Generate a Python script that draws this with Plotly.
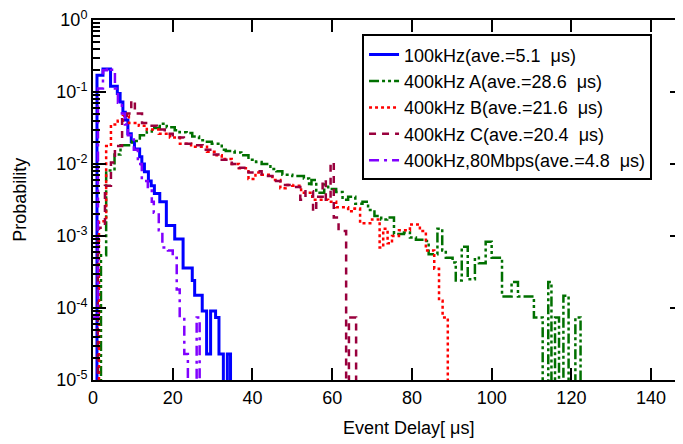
import plotly.graph_objects as go

# Event delay histograms.
# *_edges are bin edges in microseconds, *_prob the probability of each bin (0 = empty bin).

blue_edges = [0, 1.0, 2.5, 4.4, 6.1, 6.8, 7.5, 8.1, 8.75, 9.6, 10.4, 11.7, 12.25, 12.9, 13.9,
              14.6, 15.4, 16.75, 18.4, 20.5, 22.6, 24.9, 25.5, 27.4, 28.5, 29.5, 30.75, 31.6,
              32.7, 33.7, 34.5]
blue_prob = [0, 0.171, 0.209, 0.120, 0.0955, 0.0724, 0.0525, 0.0407, 0.0263, 0.0204, 0.0162,
             0.0126, 0.0100, 0.0078, 0.0058, 0.0050, 0.0039, 0.0030, 0.0014, 0.00091, 0.00036,
             0.00024, 0.00015, 9.1e-5, 2.3e-5, 9.1e-5, 7.4e-5, 2.3e-5, 0, 2.3e-5]

green_edges = [0, 2.0, 3.3, 5.4, 6.9, 9.75, 11.75, 13.5, 14.75, 16.75, 18.5, 20.5, 21.7, 23.5,
               24.9, 26.6, 28, 29.8, 32.3, 33.3, 35.5, 37.2, 39, 40.9, 42.3, 44.5, 46, 47.5, 50,
               52.9, 54.2, 54.8, 56, 58, 59, 61, 62.6, 64, 65.8, 67.6, 69, 70.6, 72.3, 73.8,
               75.5, 78, 79.5, 81, 82.6, 84.2, 86.4, 87.6, 88.5, 90.2, 91, 92.5, 94, 95.8, 96.8,
               98.5, 100, 102.6, 105, 106.6, 110.6, 112.8, 114.2, 115, 115.9, 116.9, 118, 119.3,
               121, 122.3]
green_prob = [0, 0.00054, 0.0081, 0.0135, 0.0182, 0.0209, 0.0251, 0.0282, 0.0316, 0.0363, 0.0324,
              0.0295, 0.0275, 0.0269, 0.0240, 0.0214, 0.0204, 0.0191, 0.0158, 0.0151, 0.0145,
              0.0132, 0.0115, 0.0107, 0.0100, 0.0085, 0.0079, 0.0071, 0.0068, 0.0063, 0.0050,
              0.0060, 0.0040, 0.0052, 0.0045, 0.0041, 0.0032, 0.0035, 0.0028, 0.0030, 0.0023,
              0.0019, 0.0017, 0.0018, 0.00107, 0.00112, 0.00095, 0.00089, 0.00085, 0.00056,
              0.00126, 0.00063, 0.00050, 0.00043, 0.00024, 0.00071, 0.00025, 0.00050, 0.00042,
              0.00083, 0.00050, 0.000145, 0.00023, 0.000145, 7.4e-5, 0, 0.00023, 0, 7.4e-5, 0,
              0.000148, 0, 7.4e-5]

red_edges = [0, 1.5, 3.3, 4.5, 6.2, 7.5, 9.0, 11.5, 13.5, 16.5, 19.3, 21.8, 24.6, 28.6, 31, 32.3,
             34.8, 36.6, 39, 40.75, 42.3, 45, 47, 48.3, 50, 52.2, 55, 59, 61, 64, 65.6, 67, 70,
             71.9, 72.8, 73.9, 75, 76.75, 79.5, 82, 83.5, 85.6, 86.8, 87.7, 89]
red_prob = [0, 0.0016, 0.0178, 0.0355, 0.0398, 0.0468, 0.0372, 0.0339, 0.0302, 0.0263, 0.0234,
            0.0191, 0.0174, 0.0148, 0.0132, 0.0117, 0.0100, 0.0087, 0.0062, 0.0076, 0.0071,
            0.0060, 0.0046, 0.0051, 0.0050, 0.0040, 0.0032, 0.0030, 0.0025, 0.0022, 0.0024,
            0.0015, 0.0017, 0.00069, 0.00126, 0.00079, 0.0010, 0.0012, 0.00145, 0.00117,
            0.00063, 0.00035, 0.000126, 7.4e-5]

maroon_edges = [0, 1.2, 3.0, 4.5, 5.5, 7.3, 8.5, 9.6, 10.5, 12.3, 14, 16, 18, 20, 22.8, 24.6,
                27.5, 30, 32.3, 34.8, 36.6, 39, 41, 42.3, 45, 47, 50, 52, 53.3, 55.2, 56, 57.6,
                58.4, 59.6, 60.4, 61.6, 63.5, 64.2, 66]
maroon_prob = [0, 0.0013, 0.0050, 0.0105, 0.0178, 0.0447, 0.0501, 0.0759, 0.0501, 0.0372, 0.0339,
               0.0302, 0.0263, 0.0234, 0.0191, 0.0182, 0.0158, 0.0135, 0.0115, 0.0100, 0.0089,
               0.0076, 0.0079, 0.0068, 0.0058, 0.0051, 0.0048, 0.0032, 0.0042, 0.0022, 0.0035,
               0.0060, 0.0032, 0.0105, 0.0018, 0.00117, 0, 7.4e-5]

purple_edges = [0, 1.25, 2.5, 3.5, 4.5, 5.5, 6.25, 7.25, 8.0, 8.75, 10.25, 11.25, 12.25, 13.75,
                14.75, 15.25, 16.5, 17.4, 18.8, 20.0, 21.0, 21.75, 22.9, 23.8, 26.0, 26.75]
purple_prob = [7.4e-5, 0.112, 0.200, 0.214, 0.204, 0.112, 0.0708, 0.0501, 0.0355, 0.0251, 0.0158,
               0.0100, 0.0058, 0.0046, 0.0030, 0.0021, 0.0012, 0.00069, 0.00063, 0.00050, 0.00018,
               7.4e-5, 2.3e-5, 0, 7.4e-5]

names = [
    "100kHz(ave.=5.1\u00a0\u00a0μs)",
    "400kHz A(ave.=28.6\u00a0\u00a0μs)",
    "400kHz B(ave.=21.6\u00a0\u00a0μs)",
    "400kHz C(ave.=20.4\u00a0\u00a0μs)",
    "400kHz,80Mbps(ave.=4.8\u00a0\u00a0μs)",
]

y_tick_vals = [1e-5, 1e-4, 1e-3, 1e-2, 1e-1, 1]
y_tick_text = ["10<sup>-5</sup>", "10<sup>-4</sup>", "10<sup>-3</sup>", "10<sup>-2</sup>",
               "10<sup>-1</sup>", "10<sup>0</sup>"]

FONT = "Arial, 'Liberation Sans', sans-serif"
EMPTY = 1e-9  # empty bins drop off the bottom of the log axis


def step_trace(edges, prob, name, color, dash, width):
    y = [p if p > 0 else EMPTY for p in prob] + [EMPTY]
    return go.Scatter(
        x=edges, y=y, name=name, mode="lines",
        line=dict(shape="hv", color=color, dash=dash, width=width),
    )


fig = go.Figure()
fig.add_trace(step_trace(blue_edges, blue_prob, names[0], "#0000FF", "solid", 3))
fig.add_trace(step_trace(green_edges, green_prob, names[1], "#007000",
                         "10px,3px,3px,3px,3px,3px", 2.5))
fig.add_trace(step_trace(red_edges, red_prob, names[2], "#FF0000", "3px,3px", 2.5))
fig.add_trace(step_trace(maroon_edges, maroon_prob, names[3], "#99003D", "7px,6px", 2.5))
fig.add_trace(step_trace(purple_edges, purple_prob, names[4], "#8000FF",
                         "10px,5px,3px,5px", 2.5))

minor_vals = [m * 10.0 ** e for e in range(-5, 0) for m in range(2, 10)]

# the page body adds an 8px offset, so the margins are trimmed by 8px to compensate
fig.update_layout(
    width=683, height=444,
    margin=dict(l=85, r=8, t=12, b=72),
    paper_bgcolor="white", plot_bgcolor="white",
    font=dict(family=FONT, size=18, color="black"),
    showlegend=True,
    legend=dict(
        x=0.456, y=0.96, xanchor="left", yanchor="top",
        bgcolor="white", bordercolor="black", borderwidth=2,
        font=dict(size=18), tracegroupgap=0,
    ),
    xaxis=dict(
        range=[0, 148], tick0=0, dtick=20, automargin=False,
        ticks="inside", ticklen=12, tickwidth=2, tickcolor="black",
        showline=True, linewidth=2, linecolor="black", mirror="ticks",
        showgrid=False, zeroline=False, ticklabeloverflow="allow",
        tickfont=dict(size=18),
    ),
    yaxis=dict(
        type="log", range=[-5, 0], automargin=False,
        tickvals=y_tick_vals, ticktext=y_tick_text,
        ticks="inside", ticklen=13, tickwidth=2, tickcolor="black",
        minor=dict(tickvals=minor_vals, ticks="inside", ticklen=7, tickwidth=2,
                   tickcolor="black", showgrid=False),
        showline=True, linewidth=2, linecolor="black", mirror="ticks",
        showgrid=False, zeroline=False, ticklabeloverflow="allow",
        tickfont=dict(size=18),
    ),
    annotations=[
        dict(text="Event Delay[\u00a0μs]", xref="paper", yref="paper",
             x=0.534, y=-0.133, xanchor="center", yanchor="middle",
             showarrow=False, font=dict(size=18)),
        dict(text="Probability", xref="paper", yref="paper",
             x=-0.124, y=0.5, xanchor="center", yanchor="middle", textangle=-90,
             showarrow=False, font=dict(size=18)),
    ],
)

fig.write_html("out.html")
